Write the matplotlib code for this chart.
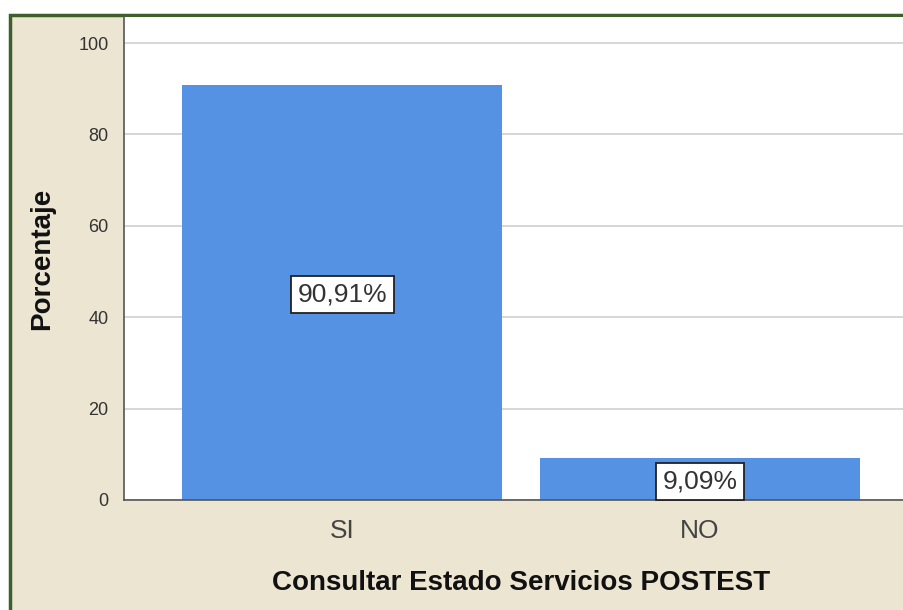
import matplotlib.pyplot as plt
from matplotlib.patches import Rectangle

categories = ['SI', 'NO']
percentages = [90.91, 9.09]
value_labels = ['90,91%', '9,09%']


def main():
    plt.rcParams['font.family'] = ['Liberation Sans', 'DejaVu Sans']
    W, H = 904, 610
    fig = plt.figure(figsize=(W / 100, H / 100), dpi=100)
    fig.patch.set_facecolor('white')

    # beige panel with green frame (right and bottom edges fall outside the image)
    fig.patches.append(Rectangle((10 / W, -0.1), 1.1, 1.1 - 15 / H, transform=fig.transFigure,
                                 facecolor='#ECE5D2', edgecolor='#3F5F2A', linewidth=2.5,
                                 zorder=-5))

    ax = fig.add_axes([124 / W, 110 / H, 794 / W, 483 / H])
    ax.set_facecolor('white')
    x = range(len(categories))
    ax.bar(x, percentages, width=0.895, color='#5592E3', zorder=2)
    ax.set_xlim(-0.61, 1.61)
    ax.set_ylim(0, 105.7)
    ax.set_yticks([0, 20, 40, 60, 80, 100])
    ax.grid(axis='y', color='#CFCFCF', linewidth=1.2, zorder=0)
    ax.set_axisbelow(True)
    for s in ['top', 'right']:
        ax.spines[s].set_visible(False)
    for s in ['left', 'bottom']:
        ax.spines[s].set_color('#555555')
        ax.spines[s].set_linewidth(1.2)
    ax.tick_params(axis='y', length=0, pad=11, labelsize=13, labelcolor='#333333')
    ax.tick_params(axis='x', length=0, pad=14, labelsize=19, labelcolor='#444444')
    ax.set_xticks(list(x))
    ax.set_xticklabels(categories)

    for i, (v, lab) in enumerate(zip(percentages, value_labels)):
        ax.text(i, v / 2, lab, ha='center', va='center_baseline', fontsize=19,
                color='#333333', zorder=4,
                bbox=dict(boxstyle='square,pad=0.25', facecolor='white',
                          edgecolor='#222222', linewidth=1.3))

    fig.text(521 / W, 1 - 583 / H, 'Consultar Estado Servicios POSTEST', ha='center',
             va='center', fontsize=20, fontweight='bold', color='#111111')
    fig.text(42 / W, 1 - 259 / H, 'Porcentaje', ha='center', va='center', rotation=90,
             fontsize=20, fontweight='bold', color='#111111')

    fig.savefig('out.png', dpi=100)


if __name__ == "__main__":
    main()
